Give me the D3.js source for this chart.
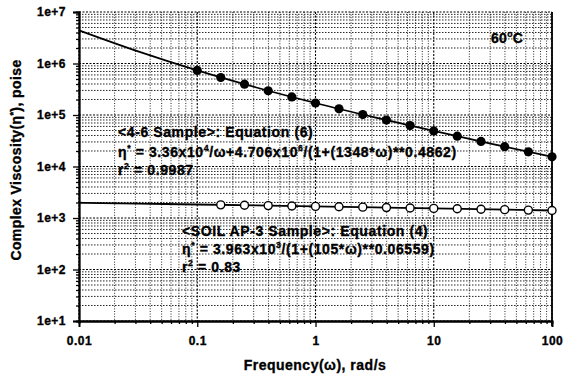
<!DOCTYPE html>
<html>
<head>
<meta charset="utf-8">
<script src="https://cdn.jsdelivr.net/npm/d3@7"></script>
<style>
  body { margin: 0; background: #fff; }
  text { font-family: "Liberation Sans", Arial, sans-serif; font-weight: bold; fill: #000; stroke: #000; stroke-width: 0.35px; }
</style>
</head>
<body>
<div id="chart"></div>
<script>
// data
var freq46 = [0.1, 0.158, 0.251, 0.398, 0.631, 1, 1.58, 2.51, 3.98, 6.31, 10, 15.8, 25.1, 39.8, 63.1, 100];
var visc46 = [733000, 535000, 396000, 296000, 224000, 171000, 132000, 102000, 79700, 62400, 49100, 38800, 30700, 24300, 19300, 15400];
var freqSoil = [0.158, 0.251, 0.398, 0.631, 1, 1.58, 2.51, 3.98, 6.31, 10, 15.8, 25.1, 39.8, 63.1, 100];
var viscSoil = [1800, 1770, 1740, 1711, 1681, 1652, 1623, 1594, 1566, 1537, 1509, 1481, 1453, 1425, 1398];
// fitted curves (eq. 6 and eq. 4)
var fitFreq = [0.01, 0.0316, 0.1, 0.316, 1, 3.16, 10, 31.6, 100];
var fit46 = [4400000, 1716000, 733000, 342000, 171000, 90200, 49100, 27300, 15400];
var fitSoil = [1978, 1904, 1829, 1755, 1681, 1609, 1537, 1467, 1398];
var xTicks = [0.01, 0.1, 1, 10, 100];
var xTickLabels = ["0.01", "0.1", "1", "10", "100"];
var yTicks = [1e1, 1e2, 1e3, 1e4, 1e5, 1e6, 1e7];
var yTickLabels = ["1e+1", "1e+2", "1e+3", "1e+4", "1e+5", "1e+6", "1e+7"];

var width = 573, height = 378;
var margin = {top: 12, right: 21, bottom: 57, left: 79};

var svg = d3.select("#chart").append("svg")
    .attr("width", width)
    .attr("height", height);

var x = d3.scaleLog().domain([0.01, 100]).range([margin.left, width - margin.right]);
var y = d3.scaleLog().domain([10, 1e7]).range([height - margin.bottom, margin.top]);

// minor values for grid + minor ticks
var xMinor = [], yMinor = [];
for (var d = 0.01; d < 100; d *= 10) {
    for (var k = 2; k <= 9; k++) xMinor.push(d * k);
}
for (var d2 = 10; d2 < 1e7; d2 *= 10) {
    for (var k2 = 2; k2 <= 9; k2++) yMinor.push(d2 * k2);
}

var grid = svg.append("g");
grid.selectAll(".vminor").data(xMinor).enter().append("line")
    .attr("x1", function(d) { return x(d); })
    .attr("x2", function(d) { return x(d); })
    .attr("y1", y(1e7)).attr("y2", y(10))
    .attr("stroke", "#111").attr("stroke-width", 0.9)
    .attr("stroke-dasharray", "1,1.6");
grid.selectAll(".hminor").data(yMinor).enter().append("line")
    .attr("x1", x(0.01)).attr("x2", x(100))
    .attr("y1", function(d) { return y(d); })
    .attr("y2", function(d) { return y(d); })
    .attr("stroke", "#111").attr("stroke-width", 0.9)
    .attr("stroke-dasharray", "1.5,1.5");
grid.selectAll(".vmajor").data(xTicks).enter().append("line")
    .attr("x1", function(d) { return x(d); })
    .attr("x2", function(d) { return x(d); })
    .attr("y1", y(1e7)).attr("y2", y(10))
    .attr("stroke", "#000").attr("stroke-width", 1.1)
    .attr("stroke-dasharray", "2,1.5");
grid.selectAll(".hmajor").data(yTicks).enter().append("line")
    .attr("x1", x(0.01)).attr("x2", x(100))
    .attr("y1", function(d) { return y(d); })
    .attr("y2", function(d) { return y(d); })
    .attr("stroke", "#000").attr("stroke-width", 1.1)
    .attr("stroke-dasharray", "2,1.5");

// axes
var xAxis = svg.append("g")
    .attr("transform", "translate(0," + y(10) + ")")
    .call(d3.axisBottom(x).tickValues(xTicks).tickFormat(function(d, i) { return xTickLabels[i]; }).tickSize(6).tickPadding(9));
var xMinorAxis = svg.append("g")
    .attr("transform", "translate(0," + y(10) + ")")
    .call(d3.axisBottom(x).tickValues(xMinor).tickFormat("").tickSize(3));
var yAxis = svg.append("g")
    .attr("transform", "translate(" + x(0.01) + ",0)")
    .call(d3.axisLeft(y).tickValues(yTicks).tickFormat(function(d, i) { return yTickLabels[i]; }).tickSize(6).tickPadding(7));
var yMinorAxis = svg.append("g")
    .attr("transform", "translate(" + x(0.01) + ",0)")
    .call(d3.axisLeft(y).tickValues(yMinor).tickFormat("").tickSize(3));

[xAxis, xMinorAxis, yAxis, yMinorAxis].forEach(function(g) {
    g.select(".domain").attr("stroke", "#000").attr("stroke-width", 1.8);
    g.selectAll(".tick line").attr("stroke", "#000").attr("stroke-width", 1.3);
    g.selectAll("text").style("font-size", "12px").style("font-family", "Liberation Sans, Arial, sans-serif")
        .style("font-weight", "bold").style("letter-spacing", "0.5px");
});

// right border
svg.append("line")
    .attr("x1", x(100)).attr("x2", x(100))
    .attr("y1", y(1e7)).attr("y2", y(10) + 5)
    .attr("stroke", "#000").attr("stroke-width", 1.8);

// fitted lines
var line = d3.line()
    .x(function(d) { return x(d[0]); })
    .y(function(d) { return y(d[1]); })
    .curve(d3.curveMonotoneX);

svg.append("path")
    .datum(fitFreq.map(function(f, i) { return [f, fit46[i]]; }))
    .attr("d", line)
    .attr("fill", "none").attr("stroke", "#000").attr("stroke-width", 1.8);
svg.append("path")
    .datum(fitFreq.map(function(f, i) { return [f, fitSoil[i]]; }))
    .attr("d", line)
    .attr("fill", "none").attr("stroke", "#000").attr("stroke-width", 1.8);

// points
svg.selectAll(".p46").data(freq46).enter().append("circle")
    .attr("cx", function(d) { return x(d); })
    .attr("cy", function(d, i) { return y(visc46[i]); })
    .attr("r", 4.6)
    .attr("fill", "#000");
svg.selectAll(".psoil").data(freqSoil).enter().append("circle")
    .attr("cx", function(d) { return x(d); })
    .attr("cy", function(d, i) { return y(viscSoil[i]); })
    .attr("r", 4)
    .attr("fill", "#fff").attr("stroke", "#000").attr("stroke-width", 1.4);

// annotations
function addText(tx, ty, size, parts, spacing) {
    var t = svg.append("text").attr("x", tx).attr("y", ty)
        .style("font-size", size + "px")
        .style("letter-spacing", (spacing || 0) + "px");
    parts.forEach(function(p) {
        var s = t.append("tspan").text(p[0]);
        if (p[1] === "sup") s.attr("dy", -6).style("font-size", (size * 0.62) + "px");
        if (p[1] === "base") s.attr("dy", 6);
    });
    return t;
}

addText(491, 43, 14, [["60"], ["o", "sup"], ["C", "base"]], 0.3);

addText(118, 137, 14, [["<4-6 Sample>: Equation (6)"]], 0.6);
addText(118, 157, 14, [["η"], ["*", "sup"], [" = 3.36x10", "base"], ["4", "sup"], ["/ω+4.706x10", "base"], ["6", "sup"], ["/(1+(1348*ω)**0.4862)", "base"]], 0.6);
addText(118, 175, 14, [["r"], ["2", "sup"], [" = 0.9987", "base"]], 0.6);

addText(182, 236, 14, [["<SOIL AP-3 Sample>: Equation (4)"]], 0.6);
addText(182, 254, 14, [["η"], ["*", "sup"], [" = 3.963x10", "base"], ["3", "sup"], ["/(1+(105*ω)**0.06559)", "base"]], 0.6);
addText(182, 272, 14, [["r"], ["2", "sup"], [" = 0.83", "base"]], 0.6);

// axis titles
svg.append("text")
    .attr("x", 315).attr("y", 370)
    .attr("text-anchor", "middle")
    .style("font-size", "14px")
    .style("letter-spacing", "0.5px")
    .text("Frequency(ω), rad/s");

var yl = svg.append("text")
    .attr("transform", "translate(21,160) rotate(-90)")
    .attr("text-anchor", "middle")
    .style("font-size", "14px")
    .style("letter-spacing", "0.4px");
yl.append("tspan").text("Complex Viscosity(η");
yl.append("tspan").text("*").attr("dy", -5).style("font-size", "9px");
yl.append("tspan").text("), poise").attr("dy", 5);
</script>
</body>
</html>
